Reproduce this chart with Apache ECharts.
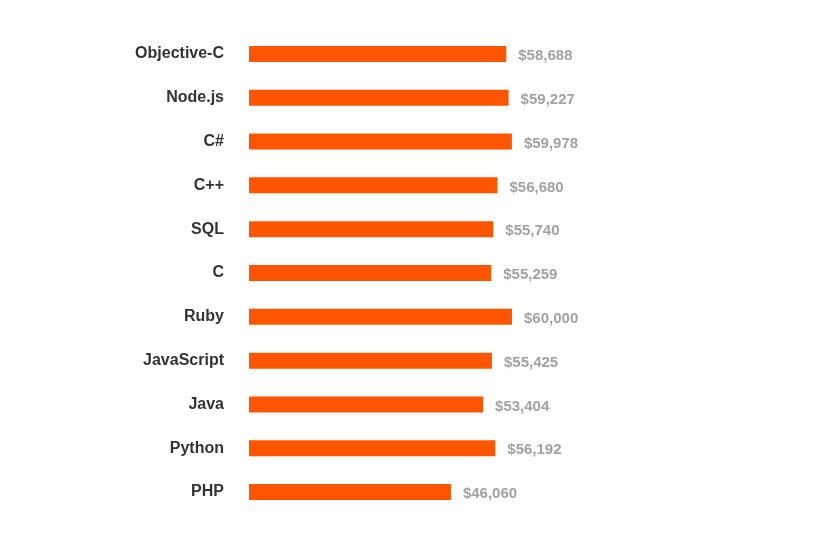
<!DOCTYPE html>
<html><head><meta charset="utf-8">
<script src="https://cdn.jsdelivr.net/npm/echarts@6/dist/echarts.min.js"></script>
<style>html,body{margin:0;padding:0;background:#fff}#c{width:816px;height:534px}</style>
</head><body><div id="c"></div>
<script>
var categories = ["Objective-C","Node.js","C#","C++","SQL","C","Ruby","JavaScript","Java","Python","PHP"];
var salaries = [58688,59227,59978,56680,55740,55259,60000,55425,53404,56192,46060];

var chart = echarts.init(document.getElementById('c'));
chart.setOption({
  animation: false,
  backgroundColor: '#fff',
  grid: {left: 249, right: 304, top: 32, bottom: 20, containLabel: false},
  xAxis: {type: 'value', min: 0, max: 60000, show: false},
  yAxis: {
    type: 'category', inverse: true, data: categories,
    axisLine: {show: false}, axisTick: {show: false}, splitLine: {show: false},
    axisLabel: {margin: 25, color: '#333333', fontWeight: 'bold', fontSize: 16,
      fontFamily: 'Liberation Sans, Arial, sans-serif', verticalAlign: 'middle', padding: [0,0,5,0]}
  },
  series: [{
    type: 'bar', data: salaries, barWidth: 16,
    itemStyle: {color: '#ff5500'},
    label: {show: true, position: 'right', distance: 12, color: '#a2a2a2', fontWeight: 'bold',
      fontSize: 15, fontFamily: 'Liberation Sans, Arial, sans-serif', offset: [0, 2],
      formatter: function(p){ return '$' + p.value.toLocaleString('en-US'); }}
  }]
});
</script></body></html>
